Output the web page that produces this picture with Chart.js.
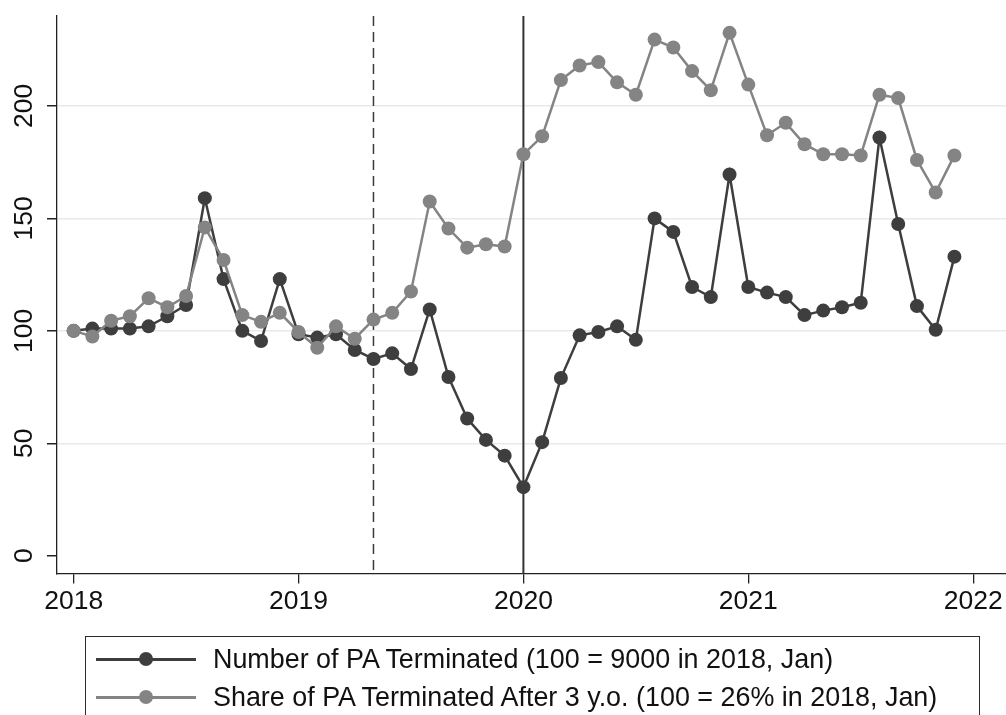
<!DOCTYPE html>
<html>
<head>
<meta charset="utf-8">
<title>PA Terminated</title>
<script src="https://cdn.jsdelivr.net/npm/chart.js@4.4.1/dist/chart.umd.min.js"></script>
<style>
  html, body { margin: 0; padding: 0; background: #fff; overflow: hidden; }
  #wrap { position: relative; width: 1006px; height: 715px; }
  #legend {
    position: absolute; left: 85px; top: 636px; width: 895px; height: 120px;
    border: 1.5px solid #2b2b2b; box-sizing: border-box;
    font-family: Arial, "Liberation Sans", Helvetica, sans-serif; font-size: 26.9px; color: #111;
  }
  .row { position: absolute; left: 0; height: 30px; display: flex; align-items: center; }
  .key { position: relative; width: 100px; height: 30px; margin-left: 10px; margin-right: 17px; }
  .key .ln { position: absolute; left: 0; right: 0; top: 14px; height: 2.5px; }
  .key .dot { position: absolute; left: 43px; top: 8px; width: 14px; height: 14px; border-radius: 50%; }
  .row span { white-space: nowrap; }
</style>
</head>
<body>
<div id="wrap">
  <canvas id="lineChart" width="1006" height="715"></canvas>
  <div id="legend"></div>
</div>
<script>
// monthly categories, Jan 2018 .. Dec 2021
const years = [2018, 2019, 2020, 2021];
const months = [];
years.forEach((y) => {
  for (let m = 1; m <= 12; m++) months.push(y + "-" + String(m).padStart(2, "0"));
});

// index, 100 = Jan 2018
const numberTerminated = [
  100, 101, 101, 101, 102, 106.5, 111.5, 159, 123, 100, 95.5, 123,
  98.5, 97, 98.5, 91.5, 87.5, 90, 83, 109.5, 79.5, 61, 51.5, 44.5,
  30.5, 50.5, 79, 98, 99.5, 102, 96, 150, 144, 119.5, 115, 169.5,
  119.5, 117, 115, 107, 109, 110.5, 112.5, 186, 147.5, 111, 100.5, 133
];
const shareAfter3 = [
  100, 97.5, 104.5, 106.5, 114.5, 110.5, 115.5, 146, 131.5, 107, 104, 108,
  99.5, 92.5, 102, 96.5, 105, 108, 117.5, 157.5, 145.5, 137, 138.5, 137.5,
  178.5, 186.5, 211.5, 218, 219.5, 210.5, 205, 229.5, 226, 215.5, 207, 232.5,
  209.5, 187, 192.5, 183, 178.5, 178.5, 178, 205, 203.5, 176, 161.5, 178
];

const seriesLabels = [
  "Number of PA Terminated (100 = 9000 in 2018, Jan)",
  "Share of PA Terminated After 3 y.o. (100 = 26% in 2018, Jan)"
];
const xTicks = [2018, 2019, 2020, 2021, 2022];
const yTicks = [0, 50, 100, 150, 200];
const eventMonths = ["2019-05", "2020-01"]; // dashed, solid

// "2019-05" -> 2019.333
const toYear = (s) => {
  const [y, m] = s.split("-").map(Number);
  return y + (m - 1) / 12;
};

const FONT = 'Arial, "Liberation Sans", Helvetica, sans-serif';
const DARK = "#3e3e3e";
const LIGHT = "#848484";

const eventLines = {
  id: "eventLines",
  beforeDatasetsDraw(chart) {
    const { ctx, chartArea, scales } = chart;
    eventMonths.forEach((m, i) => {
      const x = scales.x.getPixelForValue(toYear(m));
      ctx.save();
      ctx.beginPath();
      if (i === 0) {
        ctx.setLineDash([10, 6]);
        ctx.lineWidth = 1.5;
        ctx.strokeStyle = "#3a3a3a";
      } else {
        ctx.lineWidth = 2;
        ctx.strokeStyle = "#333";
      }
      ctx.moveTo(x, chartArea.top);
      ctx.lineTo(x, chartArea.bottom);
      ctx.stroke();
      ctx.restore();
    });
  }
};

const ctx = document.getElementById("lineChart");
const chart = new Chart(ctx, {
  type: "line",
  data: {
    datasets: [
      {
        label: seriesLabels[0],
        data: months.map((m, i) => ({ x: toYear(m), y: numberTerminated[i] })),
        borderColor: DARK,
        backgroundColor: DARK,
        borderWidth: 2.5,
        pointRadius: 7,
        pointBorderWidth: 0,
        order: 1
      },
      {
        label: seriesLabels[1],
        data: months.map((m, i) => ({ x: toYear(m), y: shareAfter3[i] })),
        borderColor: LIGHT,
        backgroundColor: LIGHT,
        borderWidth: 2.5,
        pointRadius: 7,
        pointBorderWidth: 0,
        order: 0
      }
    ]
  },
  options: {
    responsive: false,
    animation: false,
    layout: { autoPadding: false, padding: { top: 16, right: 0, left: 0, bottom: 101.5 } },
    plugins: { legend: { display: false }, tooltip: { enabled: false } },
    scales: {
      x: {
        type: "linear",
        min: 2017.926,
        max: 2022.146,
        afterBuildTicks: (s) => { s.ticks = xTicks.map((v) => ({ value: v })); },
        afterFit: (s) => { s.height = 40; },
        grid: { drawOnChartArea: false, drawTicks: true, tickLength: 10, color: "#222", lineWidth: 1.3 },
        border: { display: true, color: "#222", width: 1.3 },
        ticks: { font: { family: FONT, size: 26.5 }, color: "#111", padding: 2, maxRotation: 0, callback: (v) => String(v) }
      },
      y: {
        min: -7.9,
        max: 240,
        afterBuildTicks: (s) => { s.ticks = yTicks.map((v) => ({ value: v })); },
        afterFit: (s) => { s.width = 57; },
        grid: {
          color: (c) => (c.tick && c.tick.value === 0 ? "rgba(0,0,0,0)" : "#e9e9e9"),
          tickColor: "#222",
          lineWidth: 1.5,
          tickLength: 10
        },
        border: { display: true, color: "#222", width: 1.3 },
        ticks: {
          font: { family: FONT, size: 26.5 },
          color: "#111",
          minRotation: 90,
          maxRotation: 90,
          crossAlign: "center",
          padding: 0
        }
      }
    }
  },
  plugins: [eventLines]
});

// legend box under the plot, built from the dataset labels
const legend = document.getElementById("legend");
[0, 1].forEach((i) => {
  const ds = chart.data.datasets[i];
  const row = document.createElement("div");
  row.className = "row";
  row.style.top = (i === 0 ? 7 : 45) + "px";
  row.innerHTML =
    '<div class="key"><div class="ln" style="background:' + ds.borderColor + '"></div>' +
    '<div class="dot" style="background:' + ds.borderColor + '"></div></div>' +
    "<span>" + ds.label + "</span>";
  legend.appendChild(row);
});
</script>
</body>
</html>
